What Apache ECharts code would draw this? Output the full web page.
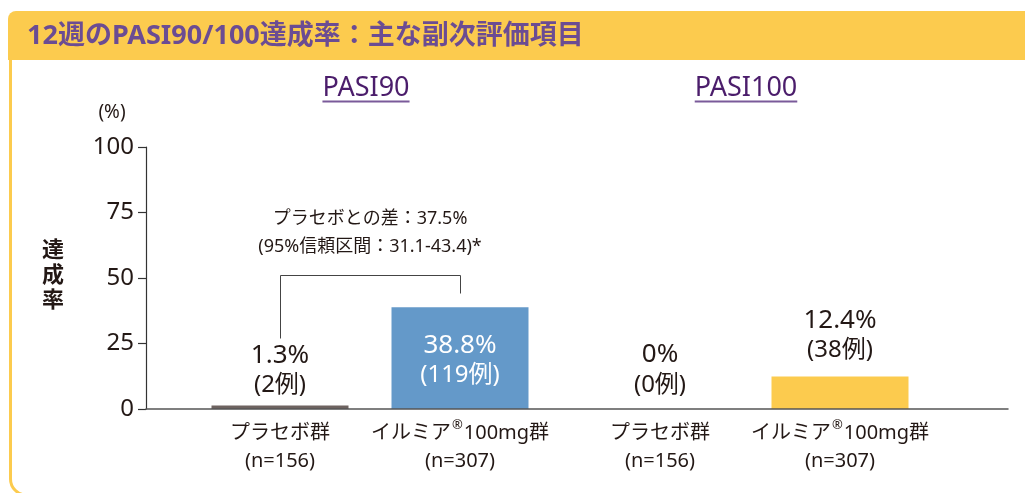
<!DOCTYPE html>
<html><head><meta charset="utf-8">
<script src="https://cdn.jsdelivr.net/npm/echarts@6/dist/echarts.min.js"></script>
<style>html,body{margin:0;padding:0;background:#fff}#c{width:1025px;height:493px}</style>
</head><body><div id="c"></div>
<script>
const titleText = '12週のPASI90/100達成率：主な副次評価項目';
const groupNames = ['PASI90', 'PASI100'];
const armNames = ['プラセボ群', 'イルミア®100mg群'];
const armN = [156, 307];
const pasi90Values = [1.3, 38.8];
const pasi90Cases = [2, 119];
const pasi100Values = [0, 12.4];
const pasi100Cases = [0, 38];
const yTicks = [0, 25, 50, 75, 100];
const diffLines = ['プラセボとの差：37.5%', '(95%信頼区間：31.1-43.4)*'];
const bracketLevels = [27, 51, 44.3]; // left leg start, top, right leg end (in %)

const FONT = '"Noto Sans","Noto Sans CJK JP",sans-serif';
const TXT = '#231815';
const armColors = [['#6e6360', '#6499c9'], ['#6e6360', '#fccb4e']];

const chart = echarts.init(document.getElementById('c'));

function armLabel(i) {
  const name = armNames[i].replace('®', '{sup|®}');
  return name + '\n(n=' + armN[i] + ')';
}
const catLabels = armNames.map((_, i) => armLabel(i));

function barData(values, cases, colors, labelCfg) {
  return values.map((v, i) => ({
    value: v,
    itemStyle: { color: colors[i] },
    label: Object.assign({
      show: true,
      formatter: '{p|' + v + '%}\n{c|(' + cases[i] + '例)}',
      fontFamily: FONT,
      rich: {
        p: { fontSize: 26, lineHeight: 30, color: TXT, fontFamily: FONT },
        c: { fontSize: 24, lineHeight: 30, color: TXT, fontFamily: FONT }
      }
    }, labelCfg[i])
  }));
}

const whiteRich = {
  p: { fontSize: 26, lineHeight: 30, color: '#fff', fontFamily: FONT },
  c: { fontSize: 24, lineHeight: 30, color: '#fff', fontFamily: FONT }
};

const gridTop = 147, gridBottom = 84;
const catAxis = (gi) => ({
  type: 'category', gridIndex: gi, data: catLabels,
  axisLine: { show: false }, axisTick: { show: false },
  axisLabel: {
    interval: 0, margin: 10, color: TXT, fontSize: 20, lineHeight: 28, fontFamily: FONT,
    rich: { sup: { fontSize: 13, verticalAlign: 'top', color: TXT, fontFamily: FONT, padding: [0, 1, 6, 1] } }
  }
});
const hiddenY = (gi) => ({
  type: 'value', gridIndex: gi, min: 0, max: 100, interval: 25,
  axisLine: { show: false }, axisTick: { show: false }, axisLabel: { show: false }, splitLine: { show: false }
});

const option = {
  animation: false,
  textStyle: { fontFamily: FONT },
  grid: [
    { left: 146, right: 17, top: gridTop, bottom: gridBottom },
    { left: 190, width: 360, top: gridTop, bottom: gridBottom },
    { left: 570, width: 360, top: gridTop, bottom: gridBottom }
  ],
  xAxis: [
    { type: 'category', gridIndex: 0, data: [''], axisTick: { show: false }, axisLabel: { show: false },
      axisLine: { show: true, lineStyle: { color: '#555', width: 1.5 } }, z: 5 },
    catAxis(1), catAxis(2)
  ],
  yAxis: [
    { type: 'value', gridIndex: 0, min: yTicks[0], max: yTicks[yTicks.length - 1], interval: 25,
      axisLine: { show: true, lineStyle: { color: '#333', width: 1.2 } },
      axisTick: { show: true, length: 8, lineStyle: { color: '#333', width: 1.2 } },
      axisLabel: { margin: 12, color: TXT, fontSize: 24, fontFamily: FONT },
      splitLine: { show: false } },
    hiddenY(1), hiddenY(2)
  ],
  series: [
    { type: 'bar', xAxisIndex: 1, yAxisIndex: 1, barWidth: 137, z: 2,
      data: barData(pasi90Values, pasi90Cases, armColors[0], [
        { position: 'top', distance: 5 },
        { position: 'insideTop', distance: 23, rich: whiteRich }
      ]) },
    { type: 'bar', xAxisIndex: 2, yAxisIndex: 2, barWidth: 137, z: 2,
      data: barData(pasi100Values, pasi100Cases, armColors[1], [
        { position: 'top', distance: 9 },
        { position: 'top', distance: 11 }
      ]) }
  ],
  graphic: [
    { type: 'rect', shape: { x: 8, y: 11, width: 1030, height: 49, r: [8, 8, 0, 0] }, style: { fill: '#fccb4e' }, z: 1 },
    { type: 'rect', shape: { x: 10.5, y: 40, width: 1030, height: 455, r: [0, 0, 0, 16] },
      style: { fill: 'none', stroke: '#fccb4e', lineWidth: 3 }, z: 0 },
    { type: 'text', x: 27, y: 36, style: { text: titleText, fill: '#6b4c93', font: 'bold 27px ' + FONT, textVerticalAlign: 'middle' }, z: 2 }
  ]
};
chart.setOption(option);

const measureCtx = document.createElement('canvas').getContext('2d');
function textWidth(t, font) { measureCtx.font = font; return measureCtx.measureText(t).width; }

// derived annotations positioned through the axes
const g = [];
groupNames.forEach((name, gi) => {
  const c0 = chart.convertToPixel({ xAxisIndex: gi + 1, yAxisIndex: gi + 1 }, [0, 0]);
  const c1 = chart.convertToPixel({ xAxisIndex: gi + 1, yAxisIndex: gi + 1 }, [1, 0]);
  const cx = (c0[0] + c1[0]) / 2 - 4;
  const f = '27px ' + FONT;
  g.push({ type: 'text', x: cx, y: 88, style: { text: name, fill: '#4b1d6b', font: f, textAlign: 'center', textVerticalAlign: 'middle' } });
  const w = textWidth(name, f);
  g.push({ type: 'line', shape: { x1: cx - w / 2, y1: 101.5, x2: cx + w / 2, y2: 101.5 }, style: { stroke: '#7a5a9a', lineWidth: 2 } });
});
const pA = chart.convertToPixel({ xAxisIndex: 1, yAxisIndex: 1 }, [0, bracketLevels[0]]);
const pB = chart.convertToPixel({ xAxisIndex: 1, yAxisIndex: 1 }, [0, bracketLevels[1]]);
const pC = chart.convertToPixel({ xAxisIndex: 1, yAxisIndex: 1 }, [1, bracketLevels[1]]);
const pD = chart.convertToPixel({ xAxisIndex: 1, yAxisIndex: 1 }, [1, bracketLevels[2]]);
g.push({ type: 'polyline', shape: { points: [pA, pB, pC, pD].map(p => [Math.round(p[0]) + 0.5, Math.round(p[1]) + 0.5]) },
  style: { stroke: '#444', lineWidth: 1, fill: 'none' } });
const mid = (pA[0] + pD[0]) / 2;
g.push({ type: 'text', x: mid, y: 219, style: { text: diffLines[0], fill: TXT, font: '18px ' + FONT, textAlign: 'center', textVerticalAlign: 'middle' } });
g.push({ type: 'text', x: mid, y: 247, style: { text: diffLines[1], fill: TXT, font: '18px ' + FONT, textAlign: 'center', textVerticalAlign: 'middle' } });
// y axis name and title
const y100 = chart.convertToPixel({ xAxisIndex: 0, yAxisIndex: 0 }, [0, 100]);
g.push({ type: 'text', x: 112, y: y100[1] - 34, style: { text: '(%)', fill: TXT, font: '19px ' + FONT, textAlign: 'center', textVerticalAlign: 'middle' } });
g.push({ type: 'text', x: 53, y: 276, style: { text: '達\n成\n率', fill: TXT, font: 'bold 22px ' + FONT, lineHeight: 25, textAlign: 'center', textVerticalAlign: 'middle' } });
chart.setOption({ graphic: option.graphic.concat(g) });
</script></body></html>
